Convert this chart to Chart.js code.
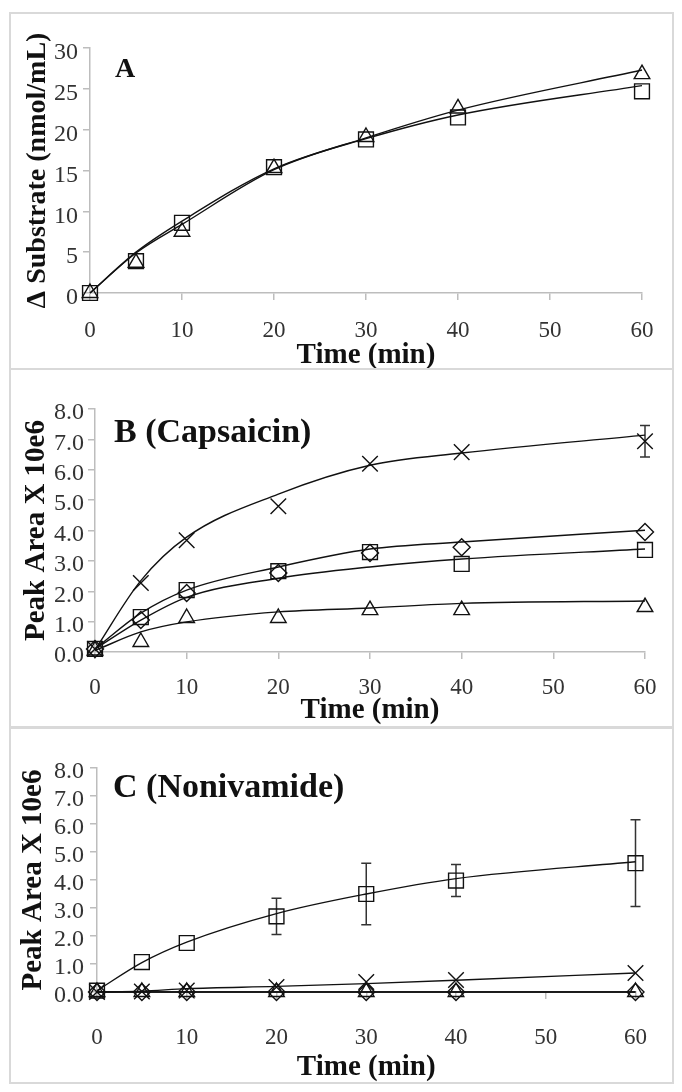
<!DOCTYPE html>
<html>
<head>
<meta charset="utf-8">
<script src="https://cdn.jsdelivr.net/npm/chart.js@4.4.0/dist/chart.umd.min.js"></script>
<style>
  html, body { margin: 0; padding: 0; background: #fff; }
  body { width: 682px; height: 1092px; position: relative; overflow: hidden; }
  .panel { position: absolute; left: 9px; width: 665px; box-sizing: border-box; border: 2px solid #d9d9d9; background: #fff; }
  .panel canvas { display: block; }
</style>
</head>
<body>
<div class="panel" style="top:12px;height:358px"><canvas id="chartA"></canvas></div>
<div class="panel" style="top:368px;height:360px"><canvas id="chartB"></canvas></div>
<div class="panel" style="top:727px;height:357px"><canvas id="chartC"></canvas></div>
<script>
// sampling times (min) and axis ticks
const times = [0, 5, 10, 20, 30, 40, 60];
const timeTicks = [0, 10, 20, 30, 40, 50, 60];
const substrateTicks = [0, 5, 10, 15, 20, 25, 30];
const peakTicks = [0, 1, 2, 3, 4, 5, 6, 7, 8];

// Panel A - substrate depletion
const aSquare = [0, 3.9, 8.6, 15.4, 18.8, 21.5, 24.7];
const aSquareFit = [0, 5.0, 8.8, 15.2, 18.9, 21.8, 25.4];
const aTriangle = [0, 3.7, 7.5, 15.3, 19.1, 22.6, 26.8];
const aTriangleFit = [0, 4.9, 8.4, 15.1, 19.0, 22.4, 27.3];

// Panel B - capsaicin
const bCross = [0.1, 2.27, 3.68, 4.8, 6.2, 6.58, 6.94];
const bCrossErr = [0, 0, 0, 0, 0, 0, 0.52];
const bCrossFit = [0.07, 2.35, 3.78, 5.2, 6.15, 6.55, 7.14];
const bDiamond = [0.1, 1.05, 1.94, 2.6, 3.26, 3.45, 3.95];
const bDiamondFit = [0.1, 1.28, 2.04, 2.8, 3.39, 3.62, 4.01];
const bSquare = [0.1, 1.15, 2.04, 2.66, 3.29, 2.9, 3.36];
const bSquareFit = [0.1, 1.05, 1.8, 2.43, 2.8, 3.06, 3.39];
const bTriangle = [0.05, 0.33, 1.12, 1.12, 1.38, 1.38, 1.48];
const bTriangleFit = [0.05, 0.66, 0.99, 1.32, 1.45, 1.6, 1.68];

// Panel C - nonivamide
const cSquare = [0.05, 1.07, 1.75, 2.7, 3.5, 3.98, 4.6];
const cSquareErr = [0, 0, 0, 0.65, 1.1, 0.57, 1.55];
const cSquareFit = [0.05, 1.05, 1.78, 2.8, 3.5, 4.05, 4.65];
const cCross = [0, 0.02, 0.05, 0.18, 0.36, 0.43, 0.68];
const cCrossFit = [0, 0.03, 0.12, 0.2, 0.3, 0.42, 0.68];
const cDiamond = [0, 0, 0, 0, 0, 0, 0];
const cTriangle = [0, 0, 0, 0, 0, 0, 0];

const serif = '"Liberation Serif", "Times New Roman", serif';
const axisColor = '#bdbdbd';
const tickColor = '#333';

const pts = arr => times.map((t, i) => ({ x: t, y: arr[i] }));

function markers(values, style, radius, errors) {
  return {
    data: pts(values), showLine: false, pointStyle: style, pointRadius: radius,
    pointBorderColor: '#111', pointBackgroundColor: 'rgba(255,255,255,0)', pointBorderWidth: 1.4,
    errors: errors, order: 0, clip: false
  };
}
function curve(values) {
  return {
    data: pts(values), borderColor: '#111', borderWidth: 1.4, pointRadius: 0,
    cubicInterpolationMode: 'monotone', order: 1, clip: false, fill: false
  };
}

// error bars drawn under the markers
const errorBars = {
  id: 'errorBars',
  beforeDatasetsDraw(chart) {
    const ctx = chart.ctx, ys = chart.scales.y;
    chart.data.datasets.forEach((ds, i) => {
      if (!ds.errors) return;
      const meta = chart.getDatasetMeta(i);
      ctx.save();
      ctx.strokeStyle = '#333';
      ctx.lineWidth = 1.5;
      meta.data.forEach((pt, j) => {
        const e = ds.errors[j];
        if (!e) return;
        const v = ds.data[j].y;
        const top = ys.getPixelForValue(v + e), bot = ys.getPixelForValue(v - e);
        ctx.beginPath();
        ctx.moveTo(pt.x, top); ctx.lineTo(pt.x, bot);
        ctx.moveTo(pt.x - 5, top); ctx.lineTo(pt.x + 5, top);
        ctx.moveTo(pt.x - 5, bot); ctx.lineTo(pt.x + 5, bot);
        ctx.stroke();
      });
      ctx.restore();
    });
  }
};

// panel letter / compound name inside the plot
const panelLabel = {
  id: 'panelLabel',
  afterDraw(chart, args, opts) {
    const { ctx, chartArea } = chart;
    ctx.save();
    ctx.font = 'bold ' + opts.size + 'px ' + serif;
    ctx.fillStyle = '#111';
    ctx.textBaseline = 'middle';
    ctx.fillText(opts.text, chartArea.left + opts.dx, chartArea.top + opts.dy);
    ctx.restore();
  }
};

function makeChart(id, datasets, o) {
  return new Chart(document.getElementById(id), {
    type: 'line',
    data: { datasets: datasets },
    options: {
      responsive: true, maintainAspectRatio: false, animation: false, events: [],
      layout: { padding: { top: o.padTop, right: o.padRight, left: 0, bottom: 0 } },
      plugins: { legend: { display: false }, tooltip: { enabled: false }, panelLabel: o.label },
      scales: {
        x: {
          type: 'linear', min: 0, max: 60,
          afterBuildTicks: ax => { ax.ticks = timeTicks.map(v => ({ value: v })); },
          afterFit: s => { s.height = o.xHeight; },
          grid: { drawOnChartArea: false, drawTicks: true, tickLength: 7, color: axisColor, lineWidth: 1.5 },
          border: { color: axisColor, width: 1.5 },
          ticks: { padding: o.xTickPad, color: tickColor, maxRotation: 0, autoSkip: false,
                   font: { family: serif, size: 23 } },
          title: { display: true, text: 'Time (min)', color: '#111',
                   font: { family: serif, size: 29, weight: 'bold', lineHeight: 1 },
                   padding: { top: 0, bottom: o.xTitlePad } }
        },
        y: {
          min: o.yTicks[0], max: o.yTicks[o.yTicks.length - 1],
          afterBuildTicks: ax => { ax.ticks = o.yTicks.map(v => ({ value: v })); },
          afterFit: s => { s.width = o.yWidth; },
          grid: { drawOnChartArea: false, drawTicks: true, tickLength: 7, color: axisColor, lineWidth: 1.5 },
          border: { color: axisColor, width: 1.5 },
          ticks: { padding: o.yTickPad, labelOffset: o.yLabelOffset, color: tickColor, autoSkip: false,
                   font: { family: serif, size: 24 },
                   callback: v => v.toFixed(o.decimals) },
          title: { display: true, text: o.yTitle, color: '#111',
                   font: { family: serif, size: o.yTitleSize, weight: 'bold', lineHeight: 1 },
                   padding: { top: o.yTitlePad, bottom: 0 } }
        }
      }
    },
    plugins: [errorBars, panelLabel]
  });
}

makeChart('chartA', [
  markers(aSquare, 'rect', 10.5),
  markers(aTriangle, 'triangle', 9),
  curve(aSquareFit),
  curve(aTriangleFit)
], {
  yTicks: substrateTicks, decimals: 0, yTitle: '\u0394 Substrate (nmol/mL)', yTitleSize: 28,
  padTop: 34, padRight: 30, xHeight: 75, yWidth: 79,
  xTickPad: 17, xTitlePad: -2, yTickPad: 5, yLabelOffset: 5, yTitlePad: 13,
  label: { text: 'A', size: 28, dx: 25, dy: 22 }
});

makeChart('chartB', [
  markers(bCross, 'crossRot', 11, bCrossErr),
  markers(bDiamond, 'rectRot', 8.5),
  markers(bSquare, 'rect', 10.5),
  markers(bTriangle, 'triangle', 9),
  curve(bCrossFit),
  curve(bDiamondFit),
  curve(bSquareFit),
  curve(bTriangleFit)
], {
  yTicks: peakTicks, decimals: 1, yTitle: 'Peak Area X 10e6', yTitleSize: 29,
  padTop: 39, padRight: 27, xHeight: 74, yWidth: 84,
  xTickPad: 15, xTitlePad: 1, yTickPad: 4, yLabelOffset: 4, yTitlePad: 11,
  label: { text: 'B (Capsaicin)', size: 34, dx: 19, dy: 24 }
});

makeChart('chartC', [
  markers(cSquare, 'rect', 10.5, cSquareErr),
  markers(cCross, 'crossRot', 11),
  markers(cDiamond, 'rectRot', 8.5),
  markers(cTriangle, 'triangle', 9),
  curve(cSquareFit),
  curve(cCrossFit),
  curve(cDiamond),
  curve(cTriangle)
], {
  yTicks: peakTicks, decimals: 1, yTitle: 'Peak Area X 10e6', yTitleSize: 29,
  padTop: 39, padRight: 24, xHeight: 90, yWidth: 86,
  xTickPad: 25, xTitlePad: 0, yTickPad: 6, yLabelOffset: 4, yTitlePad: 8,
  label: { text: 'C (Nonivamide)', size: 34, dx: 16, dy: 20 }
});
</script>
</body>
</html>
